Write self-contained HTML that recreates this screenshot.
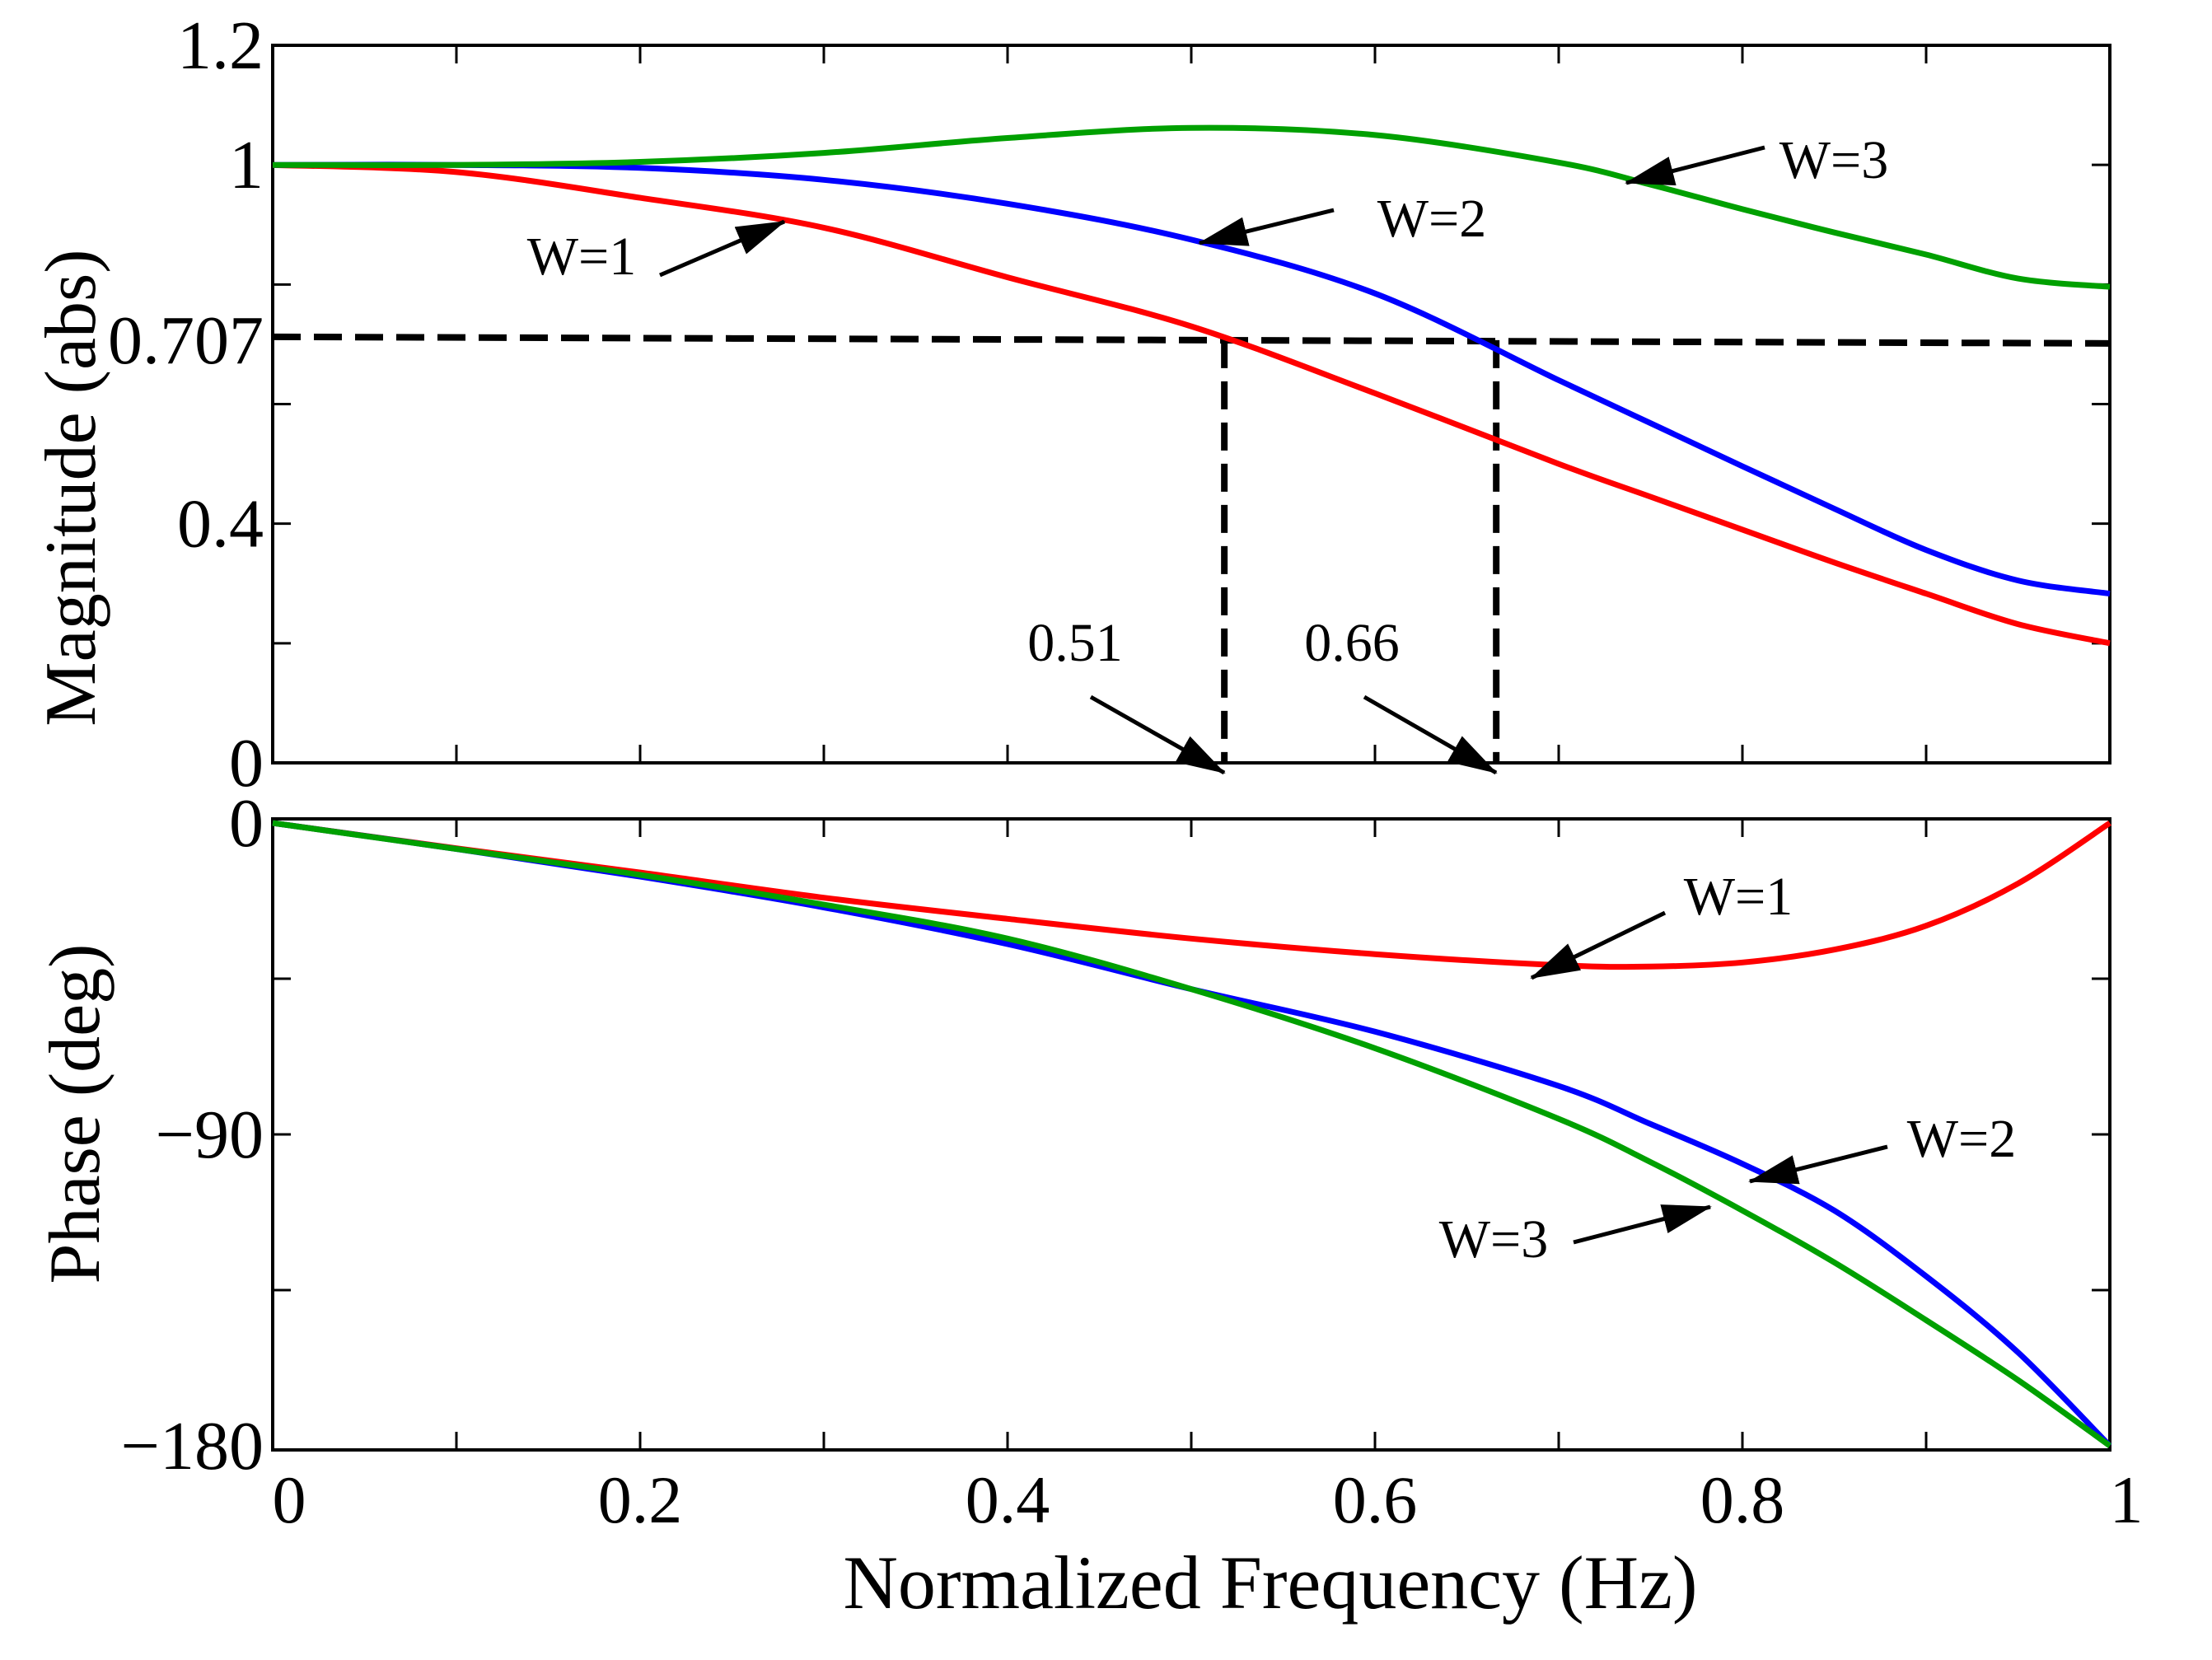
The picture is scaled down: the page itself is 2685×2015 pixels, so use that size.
<!DOCTYPE html>
<html><head><meta charset="utf-8"><style>
html,body{margin:0;padding:0;background:#fff}
svg{display:block}
text{font-family:"Liberation Serif",serif;fill:#000}
</style></head><body>
<svg id="chart" width="2685" height="2015" viewBox="0 0 2685 2015" xmlns="http://www.w3.org/2000/svg">
<defs><marker id="ah" markerWidth="60" markerHeight="36" refX="58" refY="18" orient="auto" markerUnits="userSpaceOnUse" viewBox="0 0 60 36"><path d="M0,0 L60,18 L0,36 z" fill="#000"/></marker></defs>
<g id="g"></g>
</svg>
<script>
const freq = [0,0.1,0.2,0.3,0.4,0.5,0.6,0.7,0.75,0.8,0.85,0.9,0.95,1.0];
const magW1 = [1,0.988,0.945,0.895,0.812,0.73,0.618,0.5,0.445,0.39,0.335,0.283,0.232,0.2];
const magW2 = [1,1.0,0.995,0.975,0.935,0.875,0.785,0.64,0.568,0.496,0.425,0.356,0.305,0.283];
const magW3 = [1,1.0,1.005,1.02,1.045,1.062,1.05,1.004,0.967,0.926,0.887,0.85,0.81,0.796];
const phW1 = [0,-7.3,-14.3,-21.6,-27.7,-33.4,-37.9,-41.1,-41.5,-40.3,-36.6,-29.7,-17.5,0];
const phW2 = [0,-7.5,-15.5,-24.4,-35,-48,-60.3,-76,-87,-98.5,-112,-131,-153,-180];
const phW3 = [0,-7.5,-15,-23.6,-33.4,-48,-65.1,-85.5,-98,-112,-127,-143.7,-161,-180];
const xTicks = [0,0.2,0.4,0.6,0.8,1];
const xTickLabels = ["0","0.2","0.4","0.6","0.8","1"];
const magTicks = [0,0.2,0.4,0.6,0.707,0.8,1,1.2];
const magTickLabels = ["0","","0.4","","0.707","","1","1.2"];
const phTicks = [0,-45,-90,-135,-180];
const phTickLabels = ["0","","\u221290","","\u2212180"];
const cutoffs = [0.518,0.666];
const cutoffLabels = ["0.51","0.66"];
const halfPower = 0.707;

const L=331,R=2561,T1=55,B1=926,T2=994,B2=1760;
const sx=v=>L+v*(R-L);
const sm=v=>B1-(v/1.2)*(B1-T1);
const sp=v=>999+(v/-180)*(1755-999);
const NS="http://www.w3.org/2000/svg";
const g=document.getElementById('g');
function el(tag,attrs,txt){const e=document.createElementNS(NS,tag);for(const k in attrs)e.setAttribute(k,attrs[k]);if(txt!==undefined)e.textContent=txt;g.appendChild(e);return e;}
function smoothPath(xs,ys,fy){
 const P=xs.map((x,i)=>[sx(x),fy(ys[i])]);
 let d='M'+P[0][0].toFixed(1)+','+P[0][1].toFixed(1);
 for(let i=0;i<P.length-1;i++){
  const p0=P[Math.max(0,i-1)],p1=P[i],p2=P[i+1],p3=P[Math.min(P.length-1,i+2)];
  const c1=[p1[0]+(p2[0]-p0[0])/6,p1[1]+(p2[1]-p0[1])/6];
  const c2=[p2[0]-(p3[0]-p1[0])/6,p2[1]-(p3[1]-p1[1])/6];
  d+=' C'+c1[0].toFixed(1)+','+c1[1].toFixed(1)+' '+c2[0].toFixed(1)+','+c2[1].toFixed(1)+' '+p2[0].toFixed(1)+','+p2[1].toFixed(1);
 }
 return d;
}

let e;
e=el('rect',{x:L,y:T1,width:R-L,height:B1-T1,fill:'none',stroke:'#000','stroke-width':4});


e=el('rect',{x:L,y:T2,width:R-L,height:B2-T2,fill:'none',stroke:'#000','stroke-width':4});



for(let i=1;i<10;i++){const x=sx(i/10);
 [[B1,B1-22],[T1,T1+22],[B2,B2-22],[T2,T2+22]].forEach(p=>{
  e=el('line',{x1:x,x2:x,y1:p[0],y2:p[1],stroke:'#000','stroke-width':3});
  
  
 });}
xTicks.forEach((v,i)=>{
 let x=sx(v); if(v===0)x+=20; if(v===1)x+=20;
 e=el('text',{x:x,y:1848,'font-size':82,'text-anchor':'middle'},xTickLabels[i]);
 
 
});
magTicks.forEach((v,i)=>{
 const y=sm(v);
 if(v!==0.707 && v>0 && v<1.2){
  [[L,L+22],[R,R-22]].forEach(p=>{e=el('line',{x1:p[0],x2:p[1],y1:y,y2:y,stroke:'#000','stroke-width':3});
  
  });
 }
 if(magTickLabels[i]){
  e=el('text',{x:320,y:y+28,'font-size':84,'text-anchor':'end'},magTickLabels[i]);
  
  
 }
});
phTicks.forEach((v,i)=>{
 const y=sp(v);
 if(v<0&&v>-180){
  [[L,L+22],[R,R-22]].forEach(p=>{e=el('line',{x1:p[0],x2:p[1],y1:y,y2:y,stroke:'#000','stroke-width':3});
  
  });
 }
 if(phTickLabels[i]){
  e=el('text',{x:320,y:y+28,'font-size':84,'text-anchor':'end'},phTickLabels[i]);
  
  
 }
});

e=el('text',{x:1542,y:1952,'font-size':92,'text-anchor':'middle'},'Normalized Frequency  (Hz)');


e=el('text',{x:0,y:0,'font-size':88,'text-anchor':'middle',transform:'translate(115,592) rotate(-90)'},'Magnitude  (abs)');


e=el('text',{x:0,y:0,'font-size':88,'text-anchor':'middle',transform:'translate(120,1352) rotate(-90)'},'Phase   (deg)');



e=el('line',{x1:L,x2:R,y1:sm(halfPower)-4,y2:sm(halfPower)+4,stroke:'#000','stroke-width':8,'stroke-dasharray':'34,16'});


cutoffs.forEach((c,i)=>{
 e=el('line',{x1:sx(c),x2:sx(c),y1:sm(halfPower),y2:B1,stroke:'#000','stroke-width':8,'stroke-dasharray':'34,16'});
 
 
});

const series=[[magW1,'#ff0000','magnitude-w1',sm],[magW2,'#0000ff','magnitude-w2',sm],[magW3,'#00a000','magnitude-w3',sm],
 [phW1,'#ff0000','phase-w1',sp],[phW2,'#0000ff','phase-w2',sp],[phW3,'#00a000','phase-w3',sp]];
series.forEach(s=>{
 e=el('path',{d:smoothPath(freq,s[0],s[3]),fill:'none',stroke:s[1],'stroke-width':7,'stroke-linejoin':'round'});
 
 
});

const ann=[['W=3',2226,216,2142,179,1974,222],['W=2',1738,287,1619,255,1456,295],['W=1',706,333,801,334,952,269],
 ['0.51',1305,802,1324,846,1486,938],['0.66',1641,802,1656,846,1816,938],
 ['W=1',2110,1110,2021,1108,1859,1187],['W=2',2381,1404,2291,1392,2124,1434],['W=3',1813,1526,1910,1508,2076,1465]];
ann.forEach(a=>{
 e=el('text',{x:a[1],y:a[2],'font-size':66,'text-anchor':'middle'},a[0]);
 
 
 e=el('line',{x1:a[3],y1:a[4],x2:a[5],y2:a[6],stroke:'#000','stroke-width':5,'marker-end':'url(#ah)'});
 
 
});
</script>
</body></html>
